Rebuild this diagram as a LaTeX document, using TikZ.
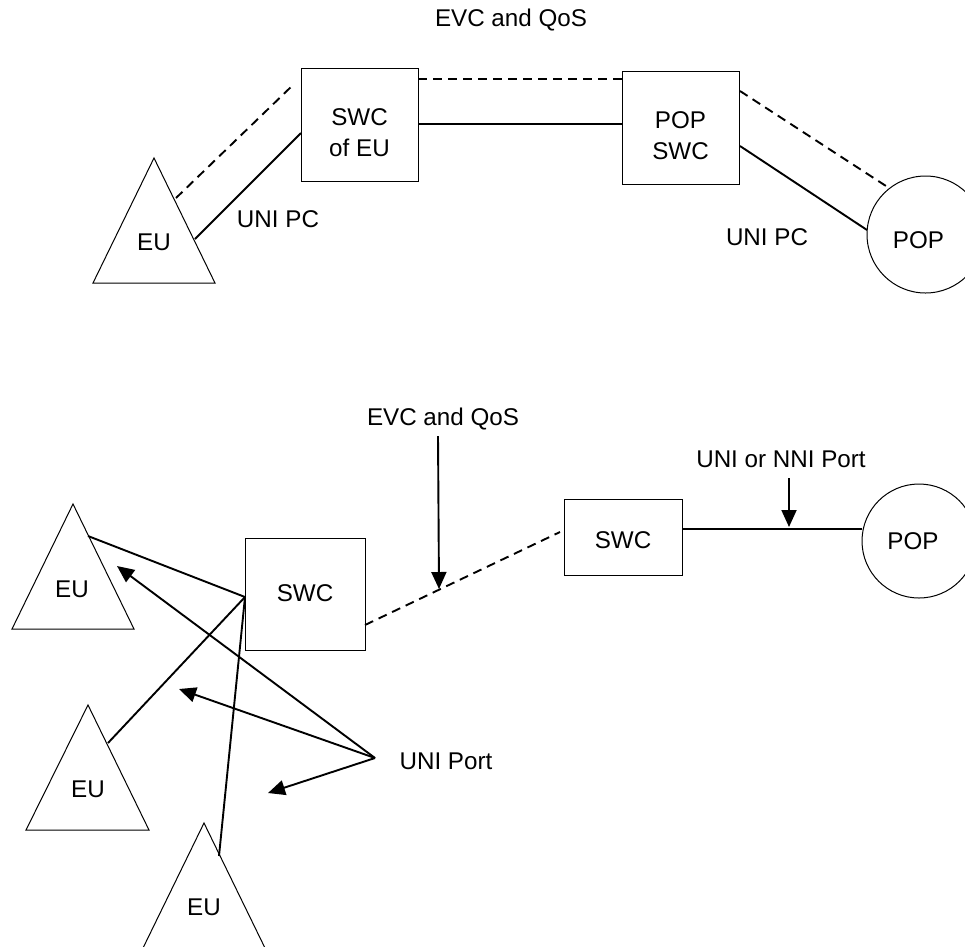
\documentclass[tikz,border=0pt]{standalone}
\usepackage{fontspec}
\setmainfont{Liberation Sans}
\usetikzlibrary{arrows.meta}
\begin{document}
\begin{tikzpicture}[x=1pt,y=-1pt,
  lbl/.style={font=\fontsize{24.2}{31.6}\selectfont, inner sep=0pt, align=center},
  shapeline/.style={draw, line width=1pt},
  boxnode/.style={shapeline, rectangle, inner sep=0pt},
  circnode/.style={shapeline, circle, inner sep=0pt},
  conn/.style={line width=1.9pt},
  dashconn/.style={line width=1.9pt, dash pattern=on 9pt off 6pt},
  arr/.style={line width=1.9pt, -{Triangle[length=17pt,width=15pt]}}]
\useasboundingbox (0,0) rectangle (965,946);

% ---------------- top part ----------------
\node[lbl] (toplbl) at (511,20) {EVC and QoS};

\coordinate (euTa) at (154,158);
\coordinate (euTl) at (93,283);
\coordinate (euTr) at (215,283);
\draw[shapeline] (euTa) -- (euTl) -- (euTr) -- cycle;
\node[lbl] (euT) at (154,242) {EU};

\node[boxnode, minimum width=117pt, minimum height=113pt,
  label={[lbl, yshift=-8pt]center:{SWC\\of EU}}] (swceu) at (359.5,124.5) {};
\node[boxnode, minimum width=117pt, minimum height=113pt,
  label={[lbl, yshift=-8pt]center:{POP\\SWC}}] (popswc) at (680.5,127.5) {};
\node[circnode, minimum size=117pt,
  label={[lbl, xshift=-7pt, yshift=-6pt]center:POP}] (popT) at (925.5,234.5) {};

\coordinate (d1a) at (176,198);
\coordinate (d1b) at (293,85);
\draw[dashconn] (d1a) -- (d1b);
\coordinate (s1a) at (195,239);
\coordinate (s1b) at (301,133);
\draw[conn] (s1a) -- (s1b);

\coordinate (d2a) at (418,79);
\coordinate (d2b) at (622,79);
\draw[dashconn] (d2a) -- (d2b);
\coordinate (s2a) at (418,124);
\coordinate (s2b) at (622,124);
\draw[conn] (s2a) -- (s2b);

\coordinate (d3a) at (740,91);
\coordinate (d3b) at (886,186);
\draw[dashconn] (d3a) -- (d3b);
\coordinate (s3a) at (740,146);
\coordinate (s3b) at (867,230);
\draw[conn] (s3a) -- (s3b);

\node[lbl] (unipc1) at (278,219) {UNI PC};
\node[lbl] (unipc2) at (767,237) {UNI PC};

% ---------------- bottom part ----------------
\coordinate (eu1a) at (73,504);
\coordinate (eu1l) at (12,629);
\coordinate (eu1r) at (134,629);
\draw[shapeline] (eu1a) -- (eu1l) -- (eu1r) -- cycle;
\node[lbl] (eu1) at (72,589) {EU};

\coordinate (eu2a) at (88,705);
\coordinate (eu2l) at (26,830);
\coordinate (eu2r) at (149,830);
\draw[shapeline] (eu2a) -- (eu2l) -- (eu2r) -- cycle;
\node[lbl] (eu2) at (88,789) {EU};

\coordinate (eu3a) at (204,823);
\coordinate (eu3l) at (143,948);
\coordinate (eu3r) at (265,948);
\draw[shapeline] (eu3a) -- (eu3l) -- (eu3r) -- cycle;
\node[lbl] (eu3) at (204,907) {EU};

\node[boxnode, minimum width=120pt, minimum height=112pt,
  label={[lbl, yshift=1pt]center:SWC}] (swcB) at (305,594) {};
\node[boxnode, minimum width=118pt, minimum height=76pt,
  label={[lbl, yshift=-3pt]center:SWC}] (swcR) at (623,537) {};
\node[circnode, minimum size=114pt,
  label={[lbl, xshift=-6pt]center:POP}] (popB) at (919,541) {};

\coordinate (hub) at (245,597);
\coordinate (c1) at (88,536);
\coordinate (c2) at (108,743);
\coordinate (c3) at (219,856);
\draw[conn] (hub) -- (c1);
\draw[conn] (hub) -- (c2);
\draw[conn] (hub) -- (c3);

\coordinate (d4a) at (365,625);
\coordinate (d4b) at (560,532);
\draw[dashconn] (d4a) -- (d4b);

\coordinate (s4a) at (682,529);
\coordinate (s4b) at (862,529);
\draw[conn] (s4a) -- (s4b);

\node[lbl] (evcB) at (443,419) {EVC and QoS};
\coordinate (a1s) at (438,436);
\coordinate (a1e) at (439,589);
\draw[arr] (a1s) -- (a1e);

\node[lbl] (nnilbl) at (781,459) {UNI or NNI Port};
\coordinate (a2s) at (789,478);
\coordinate (a2e) at (789,527);
\draw[arr] (a2s) -- (a2e);

\node[lbl] (uniport) at (446,761) {UNI Port};
\coordinate (up) at (375,758);
\coordinate (t1) at (117,566);
\coordinate (t2) at (179,689);
\coordinate (t3) at (268,793);
\draw[arr] (up) -- (t1);
\draw[arr] (up) -- (t2);
\draw[arr] (up) -- (t3);
\end{tikzpicture}
\end{document}
